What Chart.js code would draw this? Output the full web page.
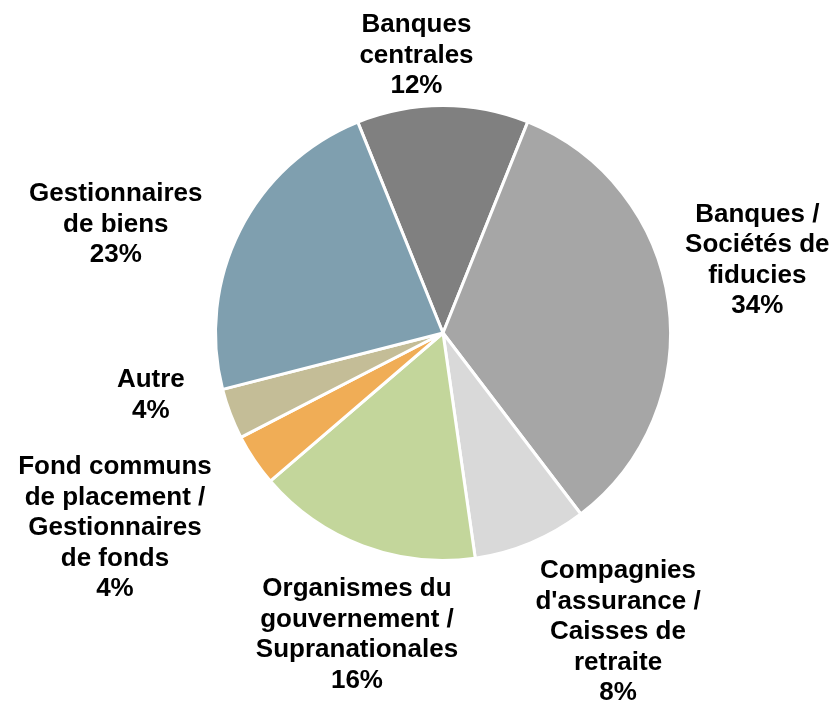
<!DOCTYPE html>
<html>
<head>
<meta charset="utf-8">
<script src="https://cdn.jsdelivr.net/npm/chart.js@4"></script>
<style>
  html, body { margin: 0; padding: 0; background: #fff; }
  #wrap { width: 836px; height: 701px; }
</style>
</head>
<body>
<div id="wrap"><canvas id="pieChart"></canvas></div>
<script>
const categories = [
  ["Banques", "centrales"],
  ["Banques /", "Sociétés de", "fiducies"],
  ["Compagnies", "d'assurance /", "Caisses de", "retraite"],
  ["Organismes du", "gouvernement /", "Supranationales"],
  ["Fond communs", "de placement /", "Gestionnaires", "de fonds"],
  ["Autre"],
  ["Gestionnaires", "de biens"]
];
const shares = [12.2, 33.6, 8.1, 16.0, 3.7, 3.6, 22.9];
const shareLabels = ["12%", "34%", "8%", "16%", "4%", "4%", "23%"];
const colors = ["#808080", "#a6a6a6", "#d9d9d9", "#c3d69b", "#f0ad56", "#c4bd97", "#7f9faf"];

// label placement: angle shift from slice middle (deg) and distance as multiple of radius
const labelAngleShift = [-5.4, -5.3, -7.6, -4.7, 3.2, 8.8, -8.5];
const labelDist = [1.225, 1.418, 1.524, 1.379, 1.678, 1.313, 1.515];

const outsideLabels = {
  id: "outsideLabels",
  afterDatasetsDraw(chart) {
    const ctx = chart.ctx;
    const meta = chart.getDatasetMeta(0);
    ctx.save();
    ctx.font = "bold 26px 'Liberation Sans', Arial, sans-serif";
    ctx.fillStyle = "#000";
    ctx.textAlign = "center";
    ctx.textBaseline = "middle";
    const lineH = 30.5;
    meta.data.forEach((arc, i) => {
      const mid = (arc.startAngle + arc.endAngle) / 2 + labelAngleShift[i] * Math.PI / 180;
      const r = arc.outerRadius * labelDist[i];
      const cx = arc.x + Math.cos(mid) * r;
      const cy = arc.y + Math.sin(mid) * r;
      const lines = categories[i].concat([shareLabels[i]]);
      const top = cy - (lines.length - 1) * lineH / 2;
      lines.forEach((t, k) => ctx.fillText(t, cx, top + k * lineH));
    });
    ctx.restore();
  }
};

new Chart(document.getElementById("pieChart"), {
  type: "pie",
  data: {
    labels: categories.map(c => c.join(" ")),
    datasets: [{
      data: shares,
      backgroundColor: colors,
      borderColor: "#ffffff",
      borderWidth: 3
    }]
  },
  options: {
    responsive: true,
    maintainAspectRatio: false,
    animation: false,
    rotation: -22,
    layout: { padding: { top: 104, bottom: 139, left: 140, right: 90 } },
    plugins: {
      legend: { display: false },
      tooltip: { enabled: false }
    }
  },
  plugins: [outsideLabels]
});
</script>
</body>
</html>
